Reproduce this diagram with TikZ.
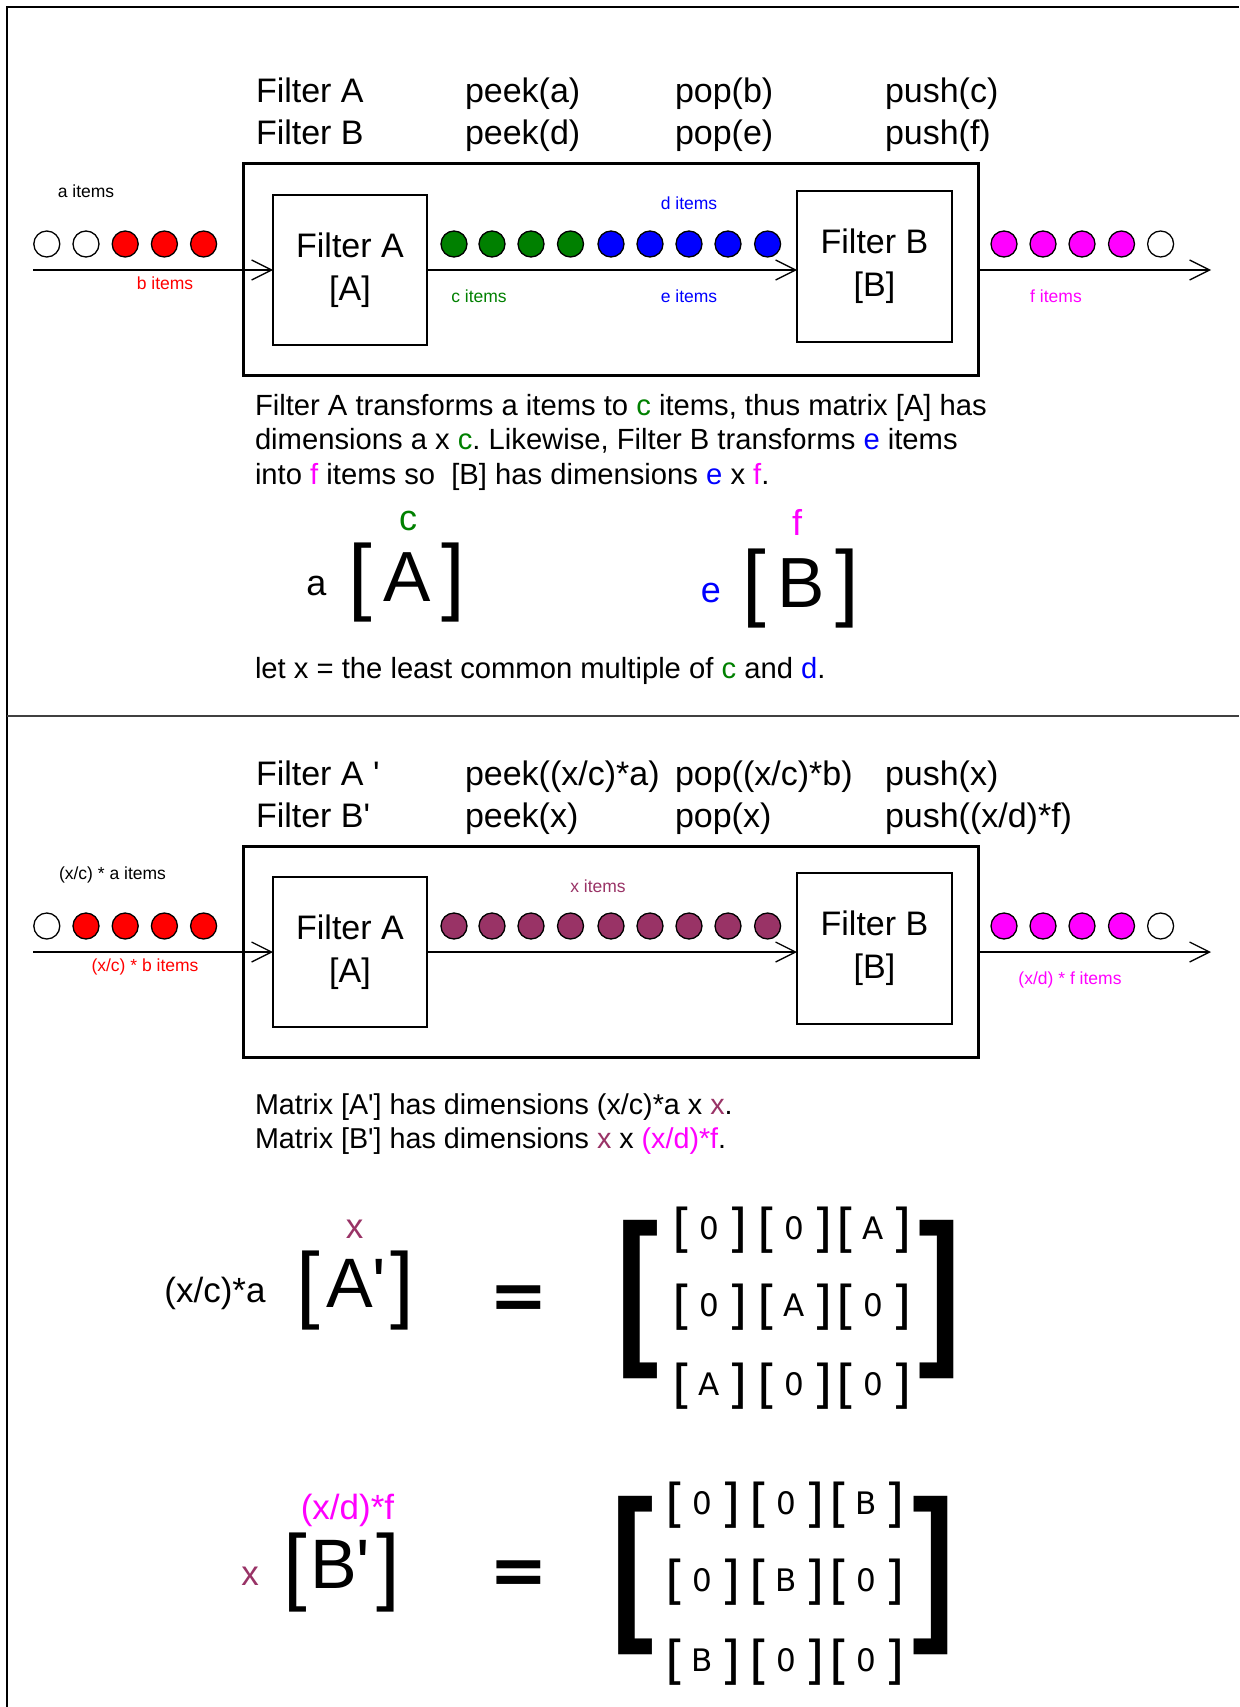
\documentclass[tikz,border=0pt]{standalone}
\usepackage{fontspec}
\setmainfont{Liberation Sans}
\newfontfamily\dvs{DejaVu Sans}
\usetikzlibrary{arrows.meta}
\definecolor{cgreen}{RGB}{0,128,0}
\definecolor{cblue}{RGB}{0,0,255}
\definecolor{cred}{RGB}{255,0,0}
\definecolor{cmag}{RGB}{255,0,255}
\definecolor{cmar}{RGB}{153,51,102}
\frenchspacing
\newcommand\myfs[1]{\fontsize{#1}{#1}\selectfont}
\newcommand\apos{\textquotesingle}
\newcommand\mcell[4]{% name, cx, bracket baseline, letter
  \node[sbr] (#1l) at (#2-27.5,#3) {[};
  \node[slet] (#1m) at (#2-1,#3-7.5) {#4};
  \node[sbr] (#1r) at (#2+27.5,#3) {]};
}
\begin{document}
\begin{tikzpicture}[x=1pt,y=-1pt,
  every node/.style={inner sep=0pt, outer sep=0pt},
  hdr/.style={anchor=base west, font=\myfs{34}},
  ptext/.style={anchor=base west, font=\myfs{29.2}},
  mtext/.style={anchor=base west, font=\myfs{28.7}},
  lbl/.style={anchor=base, font=\myfs{17.5}},
  dot/.style={circle, draw, line width=1.3, minimum size=26},
  fbox/.style={draw, line width=1.5, align=center, font=\fontsize{34}{43}\selectfont},
  obox/.style={draw, line width=3, minimum width=735, minimum height=211},
  arr/.style={-{Straight Barb[length=20pt,width=20pt]}, line width=1.3},
  flet/.style={anchor=base, font=\myfs{36}},
  bigbr/.style={anchor=base, font=\myfs{85}},
  sbr/.style={anchor=base, font=\dvs\myfs{52}},
  slet/.style={anchor=base, font=\dvs\myfs{31}},
  hugebr/.style={anchor=base, font=\bfseries\myfs{170}},
  eqs/.style={anchor=base, font=\dvs\bfseries\myfs{70}}
]
\useasboundingbox (0,0) rectangle (1239,1707);
% frame
\draw[line width=1.5] (7,1707) -- (7,7) -- (1239,7);
\draw[line width=2.5, black!75] (7,716) -- (1239,716);

% ===================== TOP =====================
\node[hdr] (th1) at (256,103) {Filter A};
\node[hdr] (th2) at (465,103) {peek(a)};
\node[hdr] (th3) at (675,103) {pop(b)};
\node[hdr] (th4) at (885,103) {push(c)};
\node[hdr] (th5) at (256,145) {Filter B};
\node[hdr] (th6) at (465,145) {peek(d)};
\node[hdr] (th7) at (675,145) {pop(e)};
\node[hdr] (th8) at (885,145) {push(f)};

\node[obox] (tob) at (610.5,269.5) {};
\node[fbox, minimum width=154, minimum height=150] (tfa) at (350,270) {Filter A\\{[A]}};
\node[fbox, minimum width=155, minimum height=151] (tfb) at (874.5,266.5) {Filter B\\{[B]}};

\coordinate (tin) at (33,270);
\coordinate (tout) at (1211,270);
\draw[arr] (tin) -- (tfa.west);
\draw[arr] (tfa.east) -- (tfa.east -| tfb.west);
\draw[arr] (tob.east |- tfa.east) -- (tout);

\foreach \n/\x/\c in {1/46.8/white,2/86/white,3/125.2/cred,4/164.4/cred,5/203.6/cred}
  \node[dot, fill=\c] (tL\n) at (\x,244) {};
\foreach \n/\x/\c in {1/454/cgreen,2/492/cgreen,3/531/cgreen,4/570.5/cgreen,5/611/cblue,6/650/cblue,7/689/cblue,8/728/cblue,9/767.6/cblue}
  \node[dot, fill=\c] (tM\n) at (\x,244) {};
\foreach \n/\x/\c in {1/1004/cmag,2/1043/cmag,3/1082/cmag,4/1121.5/cmag,5/1160.6/white}
  \node[dot, fill=\c] (tR\n) at (\x,244) {};

\node[lbl] (tla) at (86,197) {a items};
\node[lbl, text=cred] (tlb) at (165,289) {b items};
\node[lbl, text=cgreen] (tlc) at (479,302) {c items};
\node[lbl, text=cblue] (tld) at (689,210) {d items};
\node[lbl, text=cblue] (tle) at (689,302) {e items};
\node[lbl, text=cmag] (tlf) at (1056,302) {f items};

\node[ptext] (tp1) at (255,415) {Filter A transforms a items to \textcolor{cgreen}{c} items, thus matrix [A] has};
\node[ptext] (tp2) at (255,449) {dimensions a x \textcolor{cgreen}{c}. Likewise, Filter B transforms \textcolor{cblue}{e} items};
\node[ptext] (tp3) at (255,484) {into \textcolor{cmag}{f} items so\ \ [B] has dimensions \textcolor{cblue}{e} x \textcolor{cmag}{f}.};

\node[flet, text=cgreen] (fc) at (408,530) {c};
\node[flet] (fa) at (316.5,595) {a};
\node[bigbr] (fAl) at (360.5,604) {[};
\node[anchor=base, font=\myfs{71}] (fAm) at (407.5,601) {A};
\node[bigbr] (fAr) at (453.5,604) {]};

\node[flet, text=cblue] (fe) at (711,602) {e};
\node[flet, text=cmag] (ff) at (797,535) {f};
\node[bigbr] (fBl) at (754,610) {[};
\node[anchor=base, font=\myfs{71}] (fBm) at (801,607) {B};
\node[bigbr] (fBr) at (847.5,610) {]};

\node[ptext] (tlet) at (255,678) {let x = the least common multiple of \textcolor{cgreen}{c} and \textcolor{cblue}{d}.};

% ===================== BOTTOM =====================
\node[hdr] (bh1) at (256,785) {Filter A \apos};
\node[hdr] (bh2) at (465,785) {peek((x/c)*a)};
\node[hdr] (bh3) at (675,785) {pop((x/c)*b)};
\node[hdr] (bh4) at (885,785) {push(x)};
\node[hdr] (bh5) at (256,827) {Filter B\apos};
\node[hdr] (bh6) at (465,827) {peek(x)};
\node[hdr] (bh7) at (675,827) {pop(x)};
\node[hdr] (bh8) at (885,827) {push((x/d)*f)};

\node[obox] (bob) at (610.5,951.5) {};
\node[fbox, minimum width=154, minimum height=150] (bfa) at (350,952) {Filter A\\{[A]}};
\node[fbox, minimum width=155, minimum height=151] (bfb) at (874.5,948.5) {Filter B\\{[B]}};

\coordinate (bin) at (33,952);
\coordinate (bout) at (1211,952);
\draw[arr] (bin) -- (bfa.west);
\draw[arr] (bfa.east) -- (bfa.east -| bfb.west);
\draw[arr] (bob.east |- bfa.east) -- (bout);

\foreach \n/\x/\c in {1/46.8/white,2/86/cred,3/125.2/cred,4/164.4/cred,5/203.6/cred}
  \node[dot, fill=\c] (bL\n) at (\x,926) {};
\foreach \n/\x in {1/454,2/492,3/531,4/570.5,5/611,6/650,7/689,8/728,9/767.6}
  \node[dot, fill=cmar] (bM\n) at (\x,926) {};
\foreach \n/\x/\c in {1/1004/cmag,2/1043/cmag,3/1082/cmag,4/1121.5/cmag,5/1160.6/white}
  \node[dot, fill=\c] (bR\n) at (\x,926) {};

\node[lbl] (bla) at (112.5,879) {(x/c) * a items};
\node[lbl, text=cred] (blb) at (145,971) {(x/c) * b items};
\node[lbl, text=cmar] (blx) at (598,892) {x items};
\node[lbl, text=cmag] (blf) at (1070,984) {(x/d) * f items};

\node[mtext] (bm1) at (255,1114) {Matrix [A\apos] has dimensions (x/c)*a x \textcolor{cmar}{x}.};
\node[mtext] (bm2) at (255,1148) {Matrix [B\apos] has dimensions \textcolor{cmar}{x} x \textcolor{cmag}{(x/d)*f}.};

% formula A'
\node[anchor=base, font=\myfs{35}] (gxa) at (215,1302) {(x/c)*a};
\node[anchor=base, font=\myfs{35}, text=cmar] (gx) at (354.5,1238) {x};
\node[bigbr] (gAl) at (308,1312) {[};
\node[anchor=base west, font=\myfs{70}] (gAm) at (326,1307) {A\apos};
\node[bigbr] (gAr) at (402,1312) {]};
\node[eqs] (geq) at (519,1319) {=};
\node[hugebr] (gBL) at (638,1343) {\scalebox{0.75}[1]{[}};
\node[hugebr] (gBR) at (940,1343) {\scalebox{0.75}[1]{]}};
\mcell{ga}{710.5}{1246.5}{0}
\mcell{gb}{795}{1246.5}{0}
\mcell{gc}{874.5}{1246.5}{A}
\mcell{gd}{710.5}{1323.5}{0}
\mcell{ge}{795}{1323.5}{A}
\mcell{gf}{874.5}{1323.5}{0}
\mcell{gg}{710.5}{1402.5}{A}
\mcell{gh}{795}{1402.5}{0}
\mcell{gi}{874.5}{1402.5}{0}

% formula B'
\node[anchor=base, font=\myfs{35}, text=cmar] (hx) at (250,1585) {x};
\node[anchor=base, font=\myfs{35}, text=cmag] (hxd) at (347.5,1519) {(x/d)*f};
\node[bigbr] (hBl) at (295,1594) {[};
\node[anchor=base west, font=\myfs{70}] (hBm) at (310,1588) {B\apos};
\node[bigbr] (hBr) at (388.5,1594) {]};
\node[eqs] (heq) at (519,1594) {=};
\node[hugebr] (hBL) at (632.7,1619) {\scalebox{0.75}[1]{[}};
\node[hugebr] (hBR) at (934,1619) {\scalebox{0.75}[1]{]}};
\mcell{ha}{703}{1521.5}{0}
\mcell{hb}{787.5}{1521.5}{0}
\mcell{hc}{867}{1521.5}{B}
\mcell{hd}{703}{1598.5}{0}
\mcell{he}{787.5}{1598.5}{B}
\mcell{hf}{867}{1598.5}{0}
\mcell{hg}{703}{1678.5}{B}
\mcell{hh}{787.5}{1678.5}{0}
\mcell{hi}{867}{1678.5}{0}
\end{tikzpicture}
\end{document}
